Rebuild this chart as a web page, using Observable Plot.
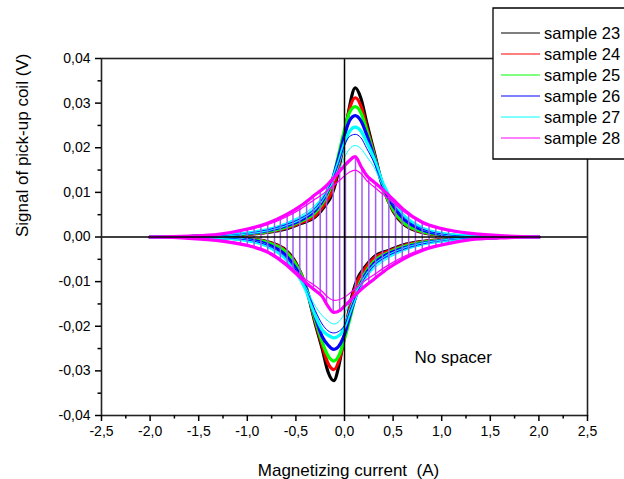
<!DOCTYPE html>
<html><head><meta charset="utf-8">
<script src="https://cdn.jsdelivr.net/npm/d3@7"></script>
<script src="https://cdn.jsdelivr.net/npm/@observablehq/plot@0.6"></script>
<style>
html,body{margin:0;padding:0;background:#fff;overflow:hidden;}
#chart svg{display:block;}
</style>
</head><body><div id="chart"></div><script>
// ---- data ----
const samples = ["sample 23","sample 24","sample 25","sample 26","sample 27","sample 28"];
const colors  = ["#000000","#ff0000","#00ff00","#0000ff","#00ffff","#ff00ff"];

// upper branch (increasing current), outer record of each sample
const xUp  = [-2.0,-1.6,-1.3,-1.0,-0.8,-0.6,-0.45,-0.3,-0.2,-0.13,-0.06,0,0.05,0.11,0.17,0.23,0.3,0.4,0.5,0.6,0.8,1.0,1.3,1.6,2.0];
const up23 = [0,0.0001,0.0003,0.0006,0.001,0.0018,0.003,0.0045,0.007,0.0095,0.015,0.0225,0.029,0.0334,0.031,0.0255,0.0195,0.011,0.0058,0.003,0.001,0.0004,0.0001,0,0];
const up24 = [0,0.0001,0.0003,0.0006,0.0011,0.002,0.0032,0.0048,0.0075,0.0102,0.0158,0.0232,0.0285,0.0312,0.0293,0.0245,0.019,0.0108,0.006,0.0032,0.0011,0.0004,0.0001,0,0];
const up25 = [0,0.0001,0.0003,0.0007,0.0012,0.0022,0.0035,0.0055,0.0085,0.012,0.0185,0.024,0.0278,0.0292,0.0278,0.0238,0.0186,0.0108,0.0062,0.0034,0.0012,0.0005,0.0001,0,0];
const up26 = [0,0.0001,0.0003,0.0008,0.0014,0.0025,0.0038,0.006,0.009,0.0125,0.0178,0.0228,0.026,0.0272,0.026,0.0228,0.0182,0.0112,0.007,0.0042,0.0016,0.0006,0.0002,0.0001,0];
const up27 = [0,0.0001,0.0004,0.0009,0.0016,0.0028,0.0042,0.0065,0.0095,0.0125,0.0168,0.021,0.0236,0.0246,0.0237,0.0212,0.0178,0.0118,0.0078,0.005,0.002,0.0008,0.0002,0.0001,0];
const up28 = [0,0.0002,0.0006,0.0018,0.003,0.005,0.007,0.0095,0.0112,0.0128,0.0145,0.016,0.0171,0.018,0.0158,0.0137,0.0124,0.0105,0.0084,0.0063,0.0033,0.0019,0.0008,0.0003,0];
// inner (smaller) records
const up26b = [0,0.0001,0.0003,0.0009,0.0016,0.0028,0.0042,0.0065,0.0095,0.0125,0.0165,0.0205,0.0225,0.023,0.0222,0.0198,0.0168,0.0112,0.0074,0.0046,0.0018,0.0007,0.0002,0.0001,0];
const up27b = [0,0.0001,0.0004,0.001,0.0018,0.0032,0.0048,0.0072,0.0098,0.0118,0.0148,0.0178,0.0197,0.0205,0.0198,0.018,0.0158,0.0112,0.0078,0.0052,0.0022,0.0009,0.0003,0.0001,0];
const up28b = [0,0.0002,0.0006,0.0016,0.0027,0.0045,0.0063,0.0085,0.01,0.0112,0.0125,0.0137,0.0145,0.015,0.0142,0.0126,0.0113,0.0095,0.0077,0.0058,0.0031,0.0017,0.0007,0.0003,0];

// lower branch (decreasing current)
const xLo  = [-2.0,-1.6,-1.3,-1.0,-0.8,-0.6,-0.5,-0.4,-0.3,-0.23,-0.17,-0.11,-0.05,0,0.06,0.13,0.2,0.3,0.45,0.6,0.8,1.0,1.3,1.6,2.0];
const lo23 = [0,0,-0.0001,-0.0004,-0.001,-0.003,-0.0058,-0.011,-0.0195,-0.025,-0.0302,-0.0322,-0.028,-0.022,-0.0148,-0.0095,-0.007,-0.0045,-0.003,-0.0018,-0.001,-0.0006,-0.0003,-0.0001,0];
const lo24 = [0,0,-0.0001,-0.0004,-0.0011,-0.0032,-0.006,-0.0108,-0.019,-0.0242,-0.0283,-0.0297,-0.0272,-0.0225,-0.0155,-0.0102,-0.0075,-0.0048,-0.0032,-0.002,-0.0011,-0.0006,-0.0003,-0.0001,0];
const lo25 = [0,0,-0.0001,-0.0005,-0.0012,-0.0034,-0.0062,-0.0108,-0.0186,-0.0235,-0.0266,-0.0278,-0.0262,-0.0228,-0.018,-0.012,-0.0085,-0.0055,-0.0035,-0.0022,-0.0012,-0.0007,-0.0003,-0.0001,0];
const lo26 = [0,-0.0001,-0.0002,-0.0006,-0.0016,-0.0042,-0.007,-0.0112,-0.018,-0.0223,-0.0242,-0.0252,-0.0242,-0.0218,-0.0172,-0.0125,-0.009,-0.006,-0.0038,-0.0025,-0.0014,-0.0008,-0.0003,-0.0001,0];
const lo27 = [0,-0.0001,-0.0002,-0.0008,-0.002,-0.005,-0.0078,-0.0118,-0.0176,-0.0208,-0.022,-0.0226,-0.022,-0.0202,-0.0165,-0.0125,-0.0095,-0.0065,-0.0042,-0.0028,-0.0016,-0.0009,-0.0004,-0.0001,0];
const lo28 = [0,-0.0003,-0.0008,-0.0019,-0.0033,-0.0062,-0.0082,-0.0102,-0.012,-0.0133,-0.0155,-0.0169,-0.0165,-0.0155,-0.0142,-0.0126,-0.0112,-0.0095,-0.007,-0.005,-0.003,-0.0018,-0.0006,-0.0002,0];
const lo26b = [0,-0.0001,-0.0002,-0.0007,-0.0018,-0.0046,-0.0074,-0.0112,-0.0165,-0.0195,-0.021,-0.0215,-0.021,-0.0198,-0.0162,-0.0125,-0.0095,-0.0065,-0.0042,-0.0028,-0.0016,-0.0009,-0.0003,-0.0001,0];
const lo27b = [0,-0.0001,-0.0003,-0.0009,-0.0022,-0.0052,-0.0078,-0.0112,-0.0155,-0.0176,-0.0188,-0.0195,-0.0188,-0.0172,-0.0145,-0.0118,-0.0098,-0.0072,-0.0048,-0.0032,-0.0018,-0.001,-0.0004,-0.0001,0];
const lo28b = [0,-0.0003,-0.0007,-0.0017,-0.0031,-0.0058,-0.0077,-0.0095,-0.011,-0.0122,-0.0135,-0.0142,-0.014,-0.0135,-0.0125,-0.0112,-0.01,-0.0085,-0.0063,-0.0045,-0.0027,-0.0016,-0.0006,-0.0002,0];

// vertical connecting segments of the sample 28 record
const ruleXs     = [-1.07,-1.0,-0.93,-0.86,-0.79,-0.72,-0.66,-0.59,-0.53,-0.46,-0.39,-0.32,-0.25,-0.185,-0.116,-0.05,0.01,0.113,0.18,0.25,0.32,0.39,0.456,0.525,0.594,0.66,0.73,0.8,0.87,0.94,1.0,1.07];
const ruleTop    = [0.0015,0.0018,0.0022,0.0026,0.0031,0.0037,0.0043,0.0051,0.006,0.0069,0.008,0.0092,0.0104,0.0115,0.013,0.0148,0.0162,0.018,0.0155,0.0133,0.0119,0.0105,0.0092,0.0078,0.0064,0.0053,0.0043,0.0034,0.0028,0.0023,0.0019,0.0016];
const ruleBottom = [-0.0016,-0.0019,-0.0023,-0.0028,-0.0034,-0.0043,-0.0052,-0.0063,-0.0075,-0.0088,-0.0099,-0.0115,-0.0128,-0.0148,-0.0168,-0.0165,-0.0155,-0.0128,-0.0114,-0.0103,-0.0092,-0.0081,-0.007,-0.006,-0.0051,-0.0043,-0.0036,-0.003,-0.0025,-0.0021,-0.0018,-0.0015];

const xTicks = [-2.5,-2.0,-1.5,-1.0,-0.5,0,0.5,1.0,1.5,2.0,2.5];
const xMinor = [-2.25,-1.75,-1.25,-0.75,-0.25,0.25,0.75,1.25,1.75,2.25];
const yTicks = [-0.04,-0.03,-0.02,-0.01,0,0.01,0.02,0.03,0.04];
const yMinor = [-0.035,-0.025,-0.015,-0.005,0.005,0.015,0.025,0.035];

// ---- build table ----
const ups = [up23,up24,up25,up26,up27,up28];
const los = [lo23,lo24,lo25,lo26,lo27,lo28];
const innerUps = {"sample 26": up26b, "sample 27": up27b, "sample 28": up28b};
const innerLos = {"sample 26": lo26b, "sample 27": lo27b, "sample 28": lo28b};
const rows = [];
samples.forEach((s, k) => {
  ups[k].forEach((v, i) => rows.push({sample: s, k, rec: "up", x: xUp[i], y: v}));
  los[k].forEach((v, i) => rows.push({sample: s, k, rec: "lo", x: xLo[i], y: v}));
});
const inner = [];
Object.keys(innerUps).forEach(s => {
  innerUps[s].forEach((v, i) => inner.push({sample: s, rec: "up", x: xUp[i], y: v}));
  innerLos[s].forEach((v, i) => inner.push({sample: s, rec: "lo", x: xLo[i], y: v}));
});
const rulesData = ruleXs.map((x, i) => ({x, y1: ruleTop[i], y2: ruleBottom[i]}));
const main = rows.filter(d => d.k < 5);
const mag = rows.filter(d => d.k === 5);
const innerMain = inner.filter(d => d.sample !== "sample 28");
const innerMag = inner.filter(d => d.sample === "sample 28");

const FONT = "'Liberation Sans', Arial, Helvetica, sans-serif";
const fmtX = d => d.toFixed(1).replace(".", ",");
const fmtY = d => d.toFixed(2).replace(".", ",");
const zkey = d => d.sample + d.rec;

const svg = Plot.plot({
  width: 624, height: 479,
  marginLeft: 101, marginRight: 37, marginTop: 58, marginBottom: 64,
  style: {fontFamily: FONT, fontSize: "14px", background: "white", color: "#000", overflow: "hidden"},
  x: {domain: [-2.5, 2.5]},
  y: {domain: [-0.04, 0.04]},
  color: {domain: samples, range: colors},
  marks: [
    Plot.line(main, {x: "x", y: "y", z: zkey, stroke: "sample", strokeWidth: 3.2, curve: "monotone-x"}),
    Plot.line(innerMain, {x: "x", y: "y", z: zkey, stroke: "sample", strokeWidth: 1, curve: "monotone-x"}),
    Plot.ruleX(rulesData, {x: "x", y1: "y1", y2: "y2", stroke: "#a05cf2", strokeWidth: 1.5}),
    Plot.line(mag, {x: "x", y: "y", z: zkey, stroke: "sample", strokeWidth: 3.2, curve: "monotone-x"}),
    Plot.line(innerMag, {x: "x", y: "y", z: zkey, stroke: "sample", strokeWidth: 1.2, curve: "monotone-x"}),
    Plot.ruleY([0], {stroke: "#000", strokeWidth: 1.5}),
    Plot.ruleX([0], {stroke: "#000", strokeWidth: 1.5}),
    Plot.frame({stroke: "#222", strokeWidth: 1.6}),
    Plot.axisX({ticks: xTicks, tickFormat: fmtX, tickSize: 6, tickPadding: 5, strokeWidth: 1.5, label: null, fontSize: 14}),
    Plot.axisX({ticks: xMinor, tickFormat: () => "", tickSize: 3.5, strokeWidth: 1.5, label: null}),
    Plot.axisY({ticks: yTicks, tickFormat: fmtY, tickSize: 6, tickPadding: 5, strokeWidth: 1.5, label: null, fontSize: 14}),
    Plot.axisY({ticks: yMinor, tickFormat: () => "", tickSize: 3.5, strokeWidth: 1.5, label: null}),
    Plot.text(["Magnetizing current \u00a0(A)"], {frameAnchor: "bottom", dx: 4, dy: 55, fontSize: 17, lineAnchor: "middle"}),
    Plot.text(["Signal of pick-up coil (V)"], {frameAnchor: "left", dx: -79, rotate: -90, fontSize: 17, lineAnchor: "middle"}),
    Plot.text(["No spacer"], {x: 0.72, y: -0.027, fontSize: 17, textAnchor: "start", lineAnchor: "middle"})
  ]
});

// legend box (top right, open towards the window edge like the reference)
const g = d3.select(svg).append("g").attr("font-family", FONT).attr("font-size", 16.5).attr("text-anchor", "start");
g.append("rect").attr("x", 493).attr("y", 8).attr("width", 140).attr("height", 151).attr("fill", "#fff");
g.append("path").attr("d", "M640,8H493V159H640").attr("fill", "none").attr("stroke", "#000").attr("stroke-width", 1.3);
samples.forEach((s, i) => {
  const y = 33 + 21 * i;
  g.append("line").attr("x1", 501).attr("x2", 540).attr("y1", y).attr("y2", y)
    .attr("stroke", colors[i]).attr("stroke-width", 1);
  g.append("text").attr("x", 544).attr("y", y).attr("dy", "0.35em").attr("fill", "#000")
    .attr("text-anchor", "start").text(s);
});

document.getElementById("chart").appendChild(svg);
</script></body></html>
